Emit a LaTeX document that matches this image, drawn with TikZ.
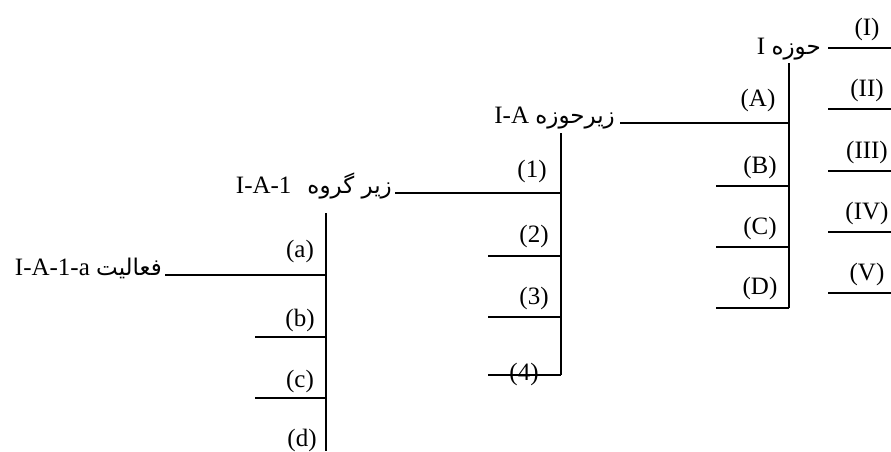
\documentclass[tikz,border=0pt]{standalone}
\usepackage{fontspec}
\setmainfont{Liberation Serif}
\newfontfamily\fa[Script=Arabic,Scale=0.92]{DejaVu Sans}
\TeXXeTstate=1
\begin{document}
\begin{tikzpicture}[x=1pt,y=-1pt,
  txt/.style={inner sep=0pt, font=\fontsize{25}{30}\selectfont},
  head/.style={txt, anchor=base east},
  lab/.style={txt, anchor=center},
  ln/.style={line width=1.5pt}]
\useasboundingbox (0,0) rectangle (891,451);

% ---------- level 4 : حوزه I ----------
\node[head] (h4) at (821,54) {I {\fa\beginR حوزه\endR}};
\coordinate (l4a) at (828,48);  \coordinate (r4a) at (891,48);
\coordinate (l4b) at (828,109); \coordinate (r4b) at (891,109);
\coordinate (l4c) at (828,171); \coordinate (r4c) at (891,171);
\coordinate (l4d) at (828,232); \coordinate (r4d) at (891,232);
\coordinate (l4e) at (828,293); \coordinate (r4e) at (891,293);
\foreach \k in {a,b,c,d,e} \draw[ln] (l4\k) -- (r4\k);
\node[lab] (nI)   at (867,29)  {(I)};
\node[lab] (nII)  at (867,90)  {(II)};
\node[lab] (nIII) at (867,152) {(III)};
\node[lab] (nIV)  at (867,213) {(IV)};
\node[lab] (nV)   at (867,274) {(V)};

% ---------- level 3 : زیرحوزه I-A ----------
\coordinate (v3t) at (789,63);
\coordinate (v3b) at (789,308);
\draw[ln] (v3t) -- (v3b);
\node[head] (h3) at (615,123) {I-A {\fa\beginR زیرحوزه\endR}};
\coordinate (l3a) at (620,123); \coordinate (r3a) at (789,123);
\coordinate (l3b) at (716,186); \coordinate (r3b) at (789,186);
\coordinate (l3c) at (716,247); \coordinate (r3c) at (789,247);
\coordinate (l3d) at (716,308); \coordinate (r3d) at (789,308);
\foreach \k in {a,b,c,d} \draw[ln] (l3\k) -- (r3\k);
\node[lab] (nA) at (758,100) {(A)};
\node[lab] (nB) at (760,167) {(B)};
\node[lab] (nC) at (760,228) {(C)};
\node[lab] (nD) at (760,288) {(D)};

% ---------- level 2 : زیر گروه I-A-1 ----------
\coordinate (v2t) at (561,133);
\coordinate (v2b) at (561,375);
\draw[ln] (v2t) -- (v2b);
\node[head] (h2) at (392,193) {I-A-1\hspace{16pt}{\fa\beginR زیر گروه\endR}};
\coordinate (l2a) at (395,193); \coordinate (r2a) at (561,193);
\coordinate (l2b) at (488,256); \coordinate (r2b) at (561,256);
\coordinate (l2c) at (488,317); \coordinate (r2c) at (561,317);
\coordinate (l2d) at (488,375); \coordinate (r2d) at (561,375);
\foreach \k in {a,b,c,d} \draw[ln] (l2\k) -- (r2\k);
\node[lab] (n1) at (532,171) {(1)};
\node[lab] (n2) at (534,236) {(2)};
\node[lab] (n3) at (534,298) {(3)};
\node[lab] (n4) at (524,374) {(4)};

% ---------- level 1 : فعالیت I-A-1-a ----------
\coordinate (v1t) at (326,213);
\coordinate (v1b) at (326,451);
\draw[ln] (v1t) -- (v1b);
\node[head] (h1) at (162,275) {I-A-1-a {\fa\beginR فعالیت\endR}};
\coordinate (l1a) at (165,275); \coordinate (r1a) at (326,275);
\coordinate (l1b) at (255,337); \coordinate (r1b) at (326,337);
\coordinate (l1c) at (255,398); \coordinate (r1c) at (326,398);
\foreach \k in {a,b,c} \draw[ln] (l1\k) -- (r1\k);
\node[lab] (na) at (300,251) {(a)};
\node[lab] (nb) at (300,320) {(b)};
\node[lab] (nc) at (300,381) {(c)};
\node[lab] (nd) at (302,440) {(d)};
\end{tikzpicture}
\end{document}
